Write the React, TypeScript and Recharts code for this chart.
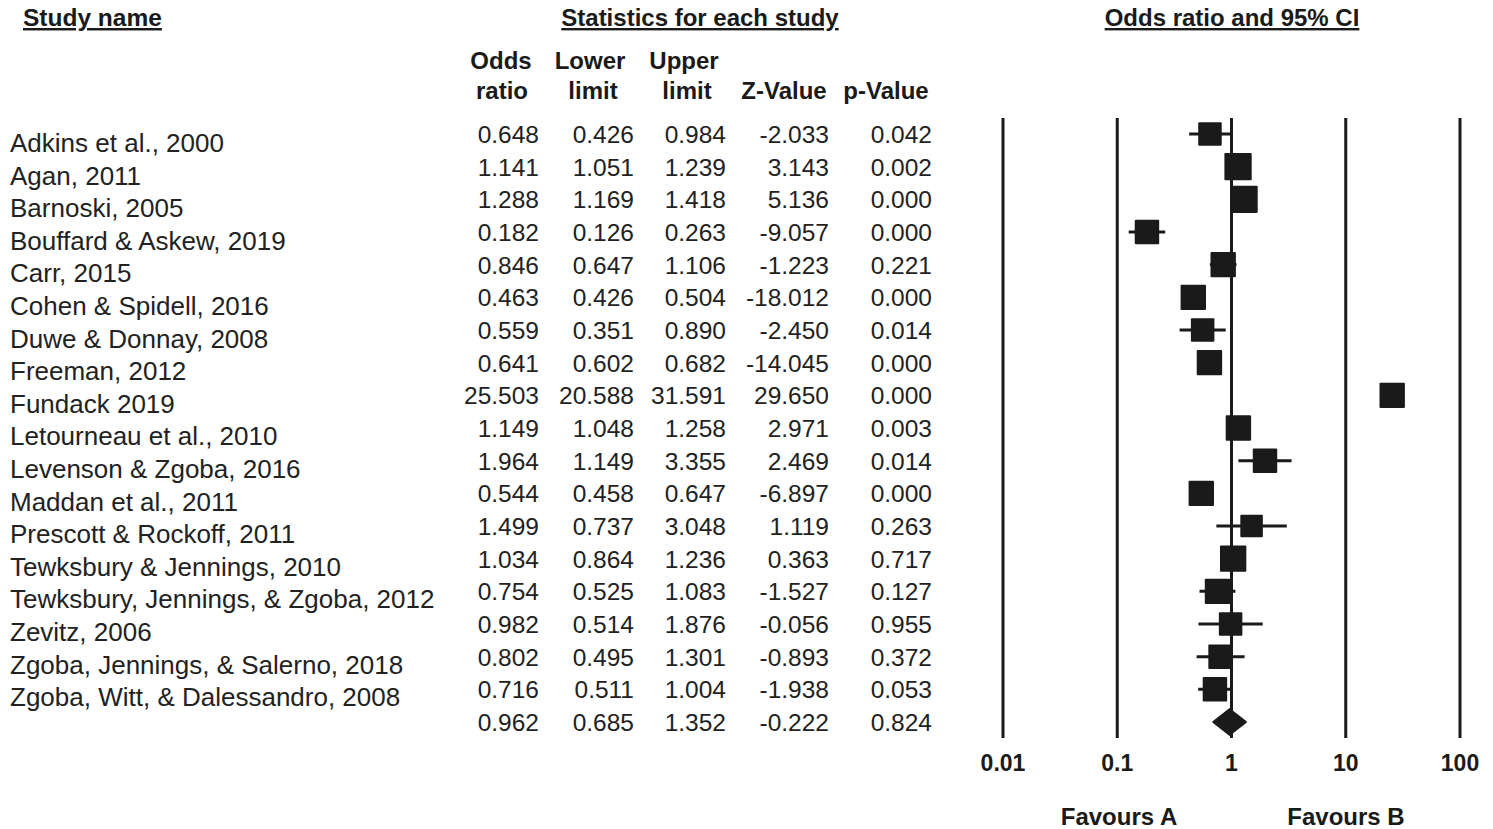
import React from "react";
import { ComposedChart, XAxis, YAxis, Scatter, ReferenceLine, Area } from "recharts";

const studies = [
  "Adkins et al., 2000",
  "Agan, 2011",
  "Barnoski, 2005",
  "Bouffard & Askew, 2019",
  "Carr, 2015",
  "Cohen & Spidell, 2016",
  "Duwe & Donnay, 2008",
  "Freeman, 2012",
  "Fundack 2019",
  "Letourneau et al., 2010",
  "Levenson & Zgoba, 2016",
  "Maddan et al., 2011",
  "Prescott & Rockoff, 2011",
  "Tewksbury & Jennings, 2010",
  "Tewksbury, Jennings, & Zgoba, 2012",
  "Zevitz, 2006",
  "Zgoba, Jennings, & Salerno, 2018",
  "Zgoba, Witt, & Dalessandro, 2008",
];
const oddsRatio = [0.648, 1.141, 1.288, 0.182, 0.846, 0.463, 0.559, 0.641, 25.503, 1.149, 1.964, 0.544, 1.499, 1.034, 0.754, 0.982, 0.802, 0.716];
const lowerLimit = [0.426, 1.051, 1.169, 0.126, 0.647, 0.426, 0.351, 0.602, 20.588, 1.048, 1.149, 0.458, 0.737, 0.864, 0.525, 0.514, 0.495, 0.511];
const upperLimit = [0.984, 1.239, 1.418, 0.263, 1.106, 0.504, 0.89, 0.682, 31.591, 1.258, 3.355, 0.647, 3.048, 1.236, 1.083, 1.876, 1.301, 1.004];
const zValue = [-2.033, 3.143, 5.136, -9.057, -1.223, -18.012, -2.45, -14.045, 29.65, 2.971, 2.469, -6.897, 1.119, 0.363, -1.527, -0.056, -0.893, -1.938];
const pValue = [0.042, 0.002, 0.0, 0.0, 0.221, 0.0, 0.014, 0.0, 0.0, 0.003, 0.014, 0.0, 0.263, 0.717, 0.127, 0.955, 0.372, 0.053];
// relative weights
const weights = [5.0, 7.0, 7.0, 5.5, 6.0, 6.0, 5.0, 6.0, 6.0, 6.0, 5.5, 6.0, 4.5, 6.5, 6.0, 5.0, 5.5, 5.5];

// combined effect: odds ratio, lower, upper, z, p
const summaryStats = [0.962, 0.685, 1.352, -0.222, 0.824];

const xTicks = [0.01, 0.1, 1, 10, 100];
const xTickLabels = ["0.01", "0.1", "1", "10", "100"];

const INK = "#1a1a1a";
const FONT = "'Liberation Sans', Arial, sans-serif";
const W = 1493;
const H = 829;
const SUMMARY_ROW = studies.length;

const rows = studies.map((name, i) => ({
  name,
  row: i,
  or: oddsRatio[i],
  lower: lowerLimit[i],
  upper: upperLimit[i],
  weight: weights[i],
}));

const diamond = [
  { or: summaryStats[1], band: [SUMMARY_ROW, SUMMARY_ROW] },
  { or: summaryStats[0], band: [SUMMARY_ROW - 0.4, SUMMARY_ROW + 0.4] },
  { or: summaryStats[2], band: [SUMMARY_ROW, SUMMARY_ROW] },
];

const Square = (props: any) => {
  const { cx, cy, payload } = props;
  const s = 14 + 1.9 * payload.weight;
  return <rect x={cx - s / 2} y={cy - s / 2} width={s} height={s} fill={INK} rx={1} />;
};

const XTick = ({ x, y, payload, index }: any) => (
  <text x={x} y={y + 25} textAnchor="middle" fontFamily={FONT} fontSize={23} fontWeight="bold" fill={INK}>
    {xTickLabels[index] ?? String(payload.value)}
  </text>
);

const colRight = [539, 634, 726, 829, 932];
const numRowY = (i: number) => 143 + i * 32.67;
const nameRowY = (i: number) => 152 + i * 32.6;
const fmt = (v: number) => v.toFixed(3);

function Table() {
  const head = { fontFamily: FONT, fontSize: 24, fontWeight: "bold" as const, fill: INK };
  const body = { fontFamily: FONT, fontSize: 24.5, fill: "#222" };
  const names = { fontFamily: FONT, fontSize: 26, fill: "#222" };
  const cols = [oddsRatio, lowerLimit, upperLimit, zValue, pValue];
  return (
    <svg width={W} height={H} style={{ position: "absolute", left: 0, top: 0, pointerEvents: "none" }}>
      <text x={23} y={26} {...head} fontSize={24.5} style={{ textDecoration: "underline" }}>Study name</text>
      <text x={700} y={26} textAnchor="middle" {...head} style={{ textDecoration: "underline" }}>Statistics for each study</text>
      <text x={1232} y={26} textAnchor="middle" {...head} style={{ textDecoration: "underline" }}>Odds ratio and 95% CI</text>

      <text x={501} y={69} textAnchor="middle" {...head}>Odds</text>
      <text x={502} y={99} textAnchor="middle" {...head}>ratio</text>
      <text x={590} y={69} textAnchor="middle" {...head}>Lower</text>
      <text x={593} y={99} textAnchor="middle" {...head}>limit</text>
      <text x={684} y={69} textAnchor="middle" {...head}>Upper</text>
      <text x={687} y={99} textAnchor="middle" {...head}>limit</text>
      <text x={784} y={99} textAnchor="middle" {...head}>Z-Value</text>
      <text x={886} y={99} textAnchor="middle" {...head}>p-Value</text>

      {studies.map((s, i) => (
        <text key={s} x={10} y={nameRowY(i)} {...names}>{s}</text>
      ))}
      {studies.map((s, i) =>
        cols.map((c, j) => (
          <text key={s + j} x={colRight[j]} y={numRowY(i)} textAnchor="end" {...body}>{fmt(c[i])}</text>
        ))
      )}
      {summaryStats.map((v, j) => (
        <text key={"sum" + j} x={colRight[j]} y={numRowY(SUMMARY_ROW)} textAnchor="end" {...body}>{fmt(v)}</text>
      ))}

      <text x={1119} y={825} textAnchor="middle" {...head}>Favours A</text>
      <text x={1346} y={825} textAnchor="middle" {...head}>Favours B</text>
    </svg>
  );
}

export default function App() {
  return (
    <div style={{ position: "absolute", left: 0, top: 0, width: W, height: H, background: "#fff" }}>
      <ComposedChart width={W} height={H} margin={{ top: 118, right: 33, bottom: 51, left: 1003 }}>
        <XAxis
          type="number"
          dataKey="or"
          scale="log"
          domain={[0.01, 100]}
          ticks={xTicks}
          allowDataOverflow
          axisLine={false}
          tickLine={false}
          height={40}
          tick={<XTick />}
          interval={0}
        />
        <YAxis type="number" dataKey="row" domain={[-0.49, SUMMARY_ROW + 0.49]} reversed hide allowDataOverflow />
        {xTicks.map(t => (
          <ReferenceLine key={t} x={t} stroke={INK} strokeWidth={3} />
        ))}
        {rows.map(r => (
          <ReferenceLine
            key={r.name}
            segment={[{ x: r.lower, y: r.row }, { x: r.upper, y: r.row }]}
            stroke={INK}
            strokeWidth={3}
          />
        ))}
        <Scatter data={rows} shape={<Square />} isAnimationActive={false} />
        <Area
          data={diamond}
          dataKey="band"
          type="linear"
          fill={INK}
          fillOpacity={1}
          stroke={INK}
          strokeWidth={1.5}
          isAnimationActive={false}
          dot={false}
          activeDot={false}
        />
      </ComposedChart>
      <Table />
    </div>
  );
}
